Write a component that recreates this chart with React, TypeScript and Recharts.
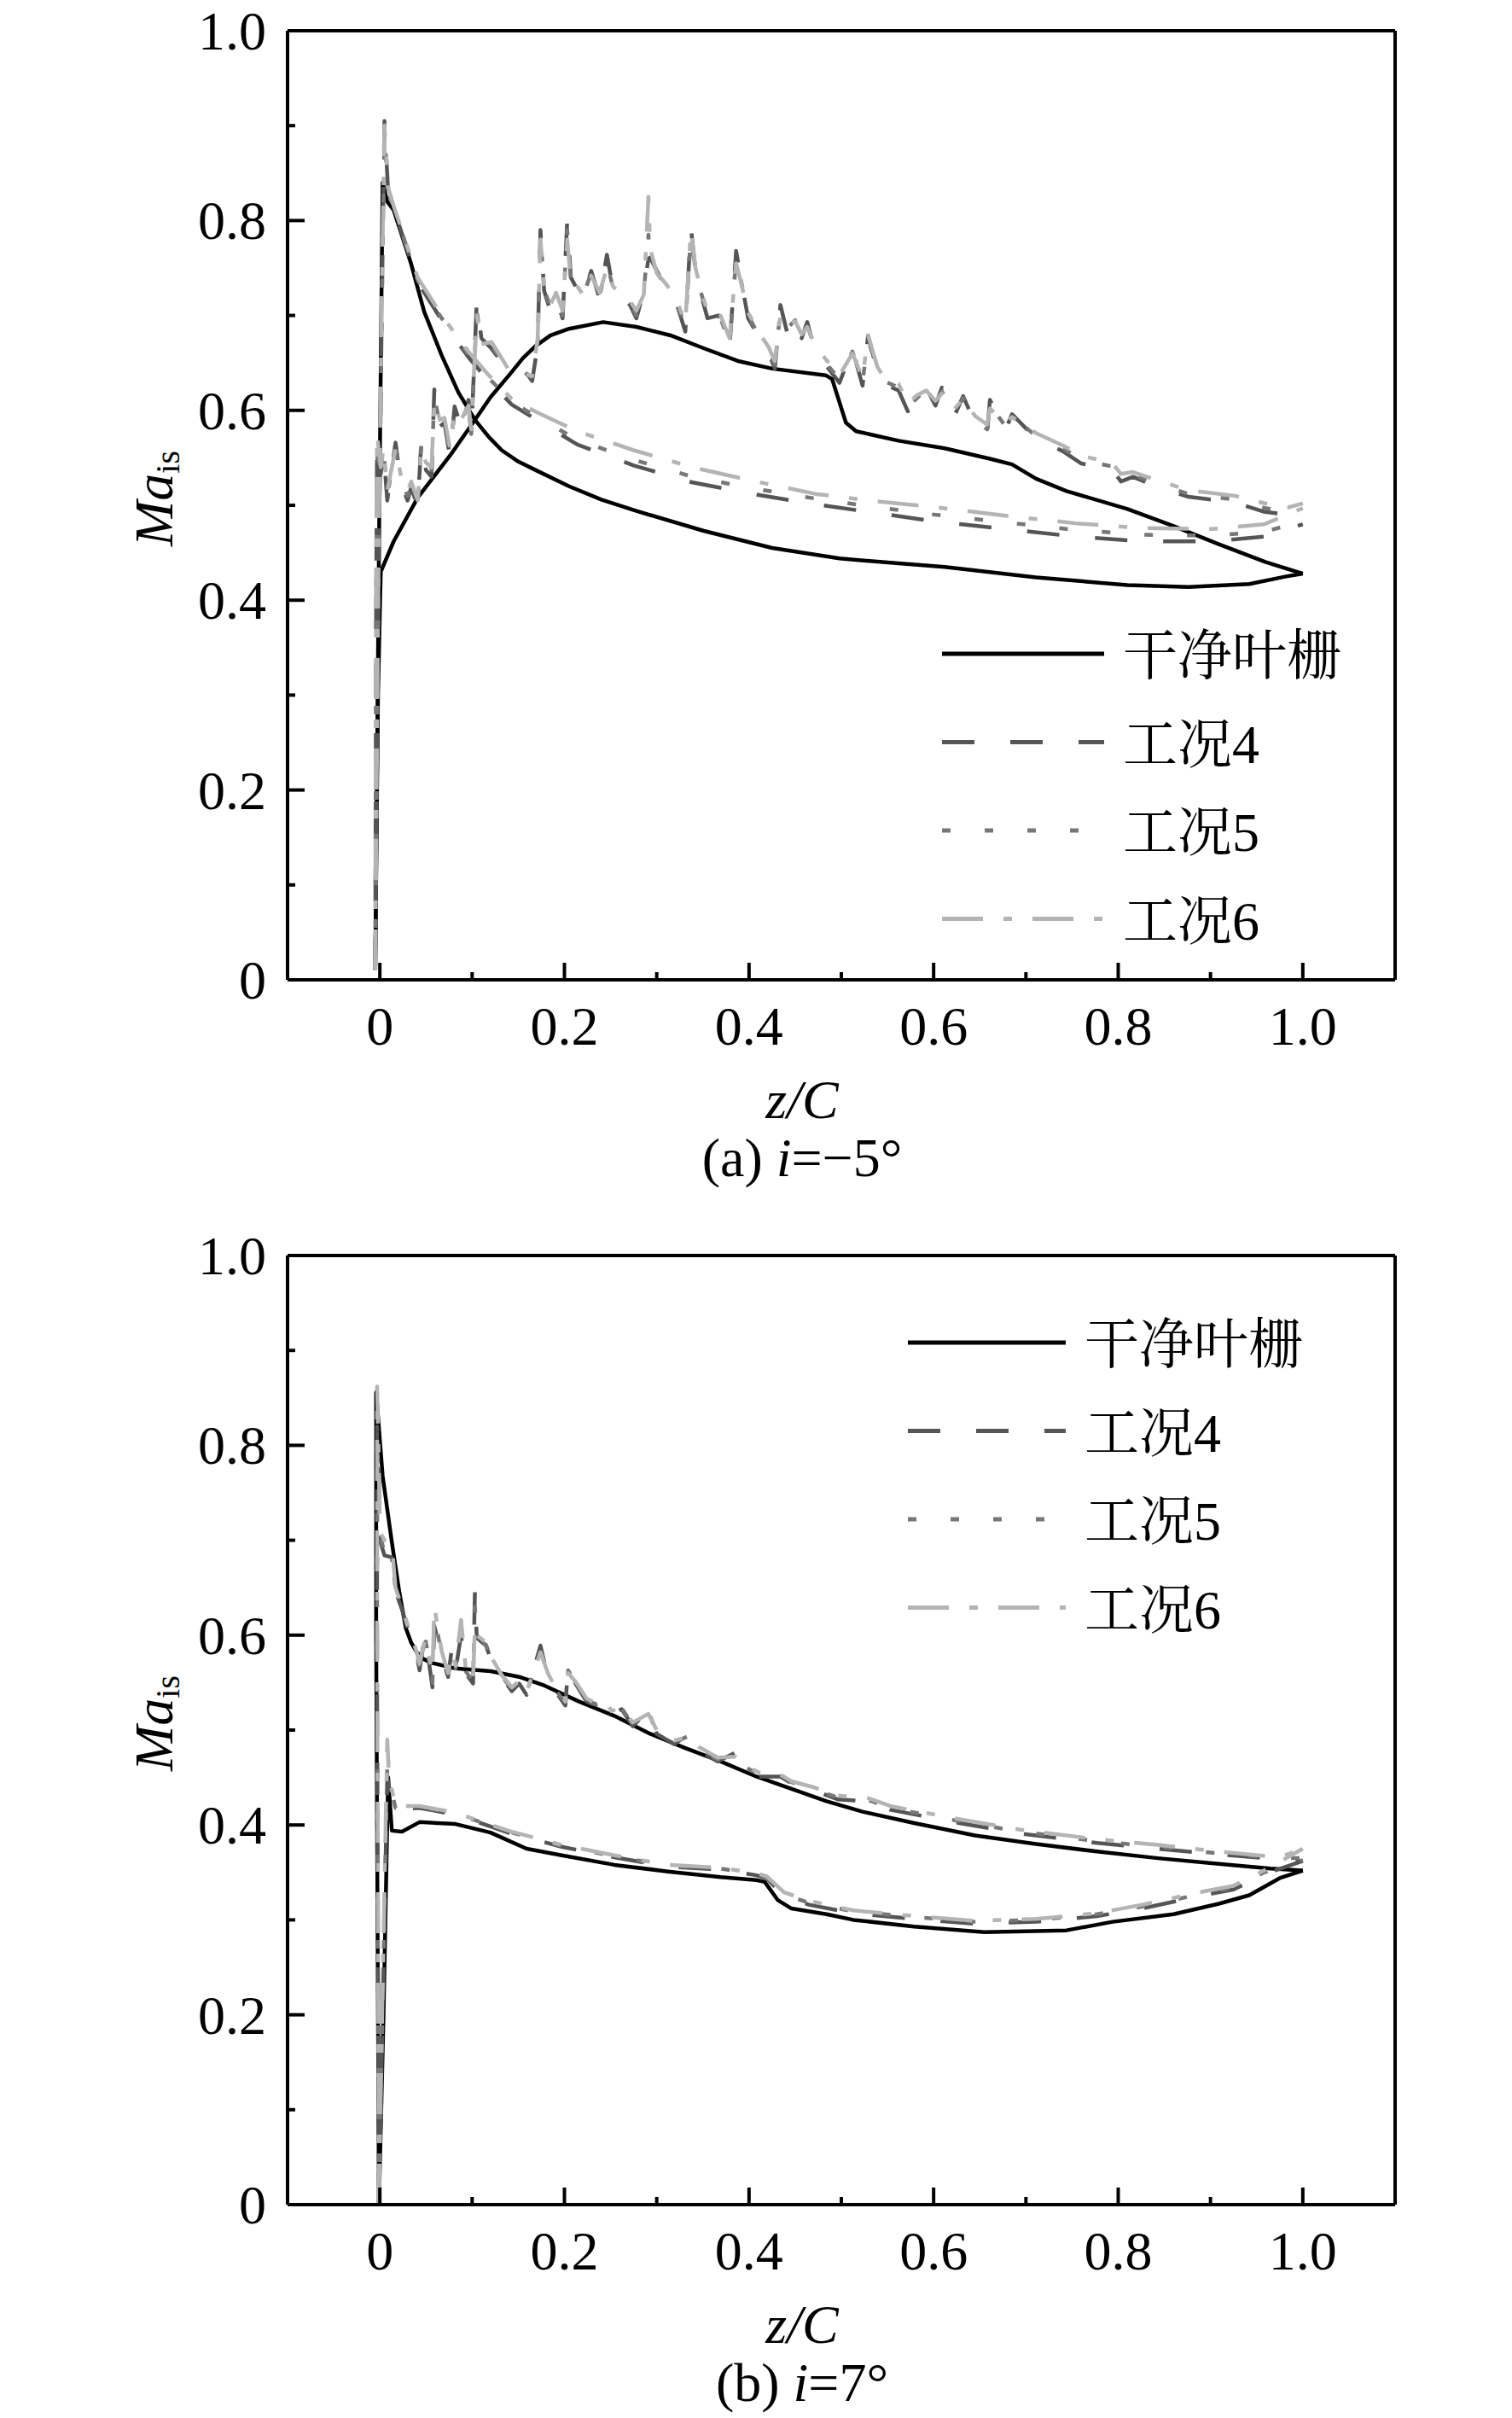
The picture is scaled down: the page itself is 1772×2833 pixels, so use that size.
import { Label, Legend, Line, LineChart, ReferenceLine, XAxis, YAxis } from "recharts"

const SERIF = "'Liberation Serif', 'Times New Roman', serif"
const CJK = "'Liberation Serif', 'Noto Serif CJK SC', 'Noto Sans CJK SC', serif"

const xTicks = [0, 0.1, 0.2, 0.3, 0.4, 0.5, 0.6, 0.7, 0.8, 0.9, 1.0]
const yTicks = [0, 0.1, 0.2, 0.3, 0.4, 0.5, 0.6, 0.7, 0.8, 0.9, 1.0]
const seriesNames = ["干净叶栅", "工况4", "工况5", "工况6"]

// ---------- (a) i = -5° ----------
const aCleanFrontX = [-0.005, -0.001, 0.003, 0.008, 0.015, 0.034, 0.048, 0.067, 0.085, 0.103, 0.118, 0.132, 0.15, 0.169, 0.205, 0.24, 0.278, 0.351, 0.425, 0.498, 0.559, 0.612, 0.711, 0.81, 0.876, 0.942, 0.982, 1.0]
const aCleanFrontY = [0.01, 0.45, 0.84, 0.82, 0.811, 0.754, 0.704, 0.658, 0.619, 0.59, 0.572, 0.558, 0.546, 0.537, 0.52, 0.506, 0.494, 0.473, 0.455, 0.444, 0.439, 0.435, 0.424, 0.416, 0.414, 0.417, 0.425, 0.428]
const aCleanRearX = [-0.005, -0.002, 0.001, 0.015, 0.041, 0.078, 0.103, 0.12, 0.14, 0.155, 0.169, 0.185, 0.205, 0.242, 0.278, 0.315, 0.352, 0.388, 0.425, 0.483, 0.49, 0.505, 0.516, 0.562, 0.612, 0.661, 0.685, 0.711, 0.744, 0.81, 0.86, 0.909, 0.96, 1.0]
const aCleanRearY = [0.01, 0.3, 0.43, 0.462, 0.508, 0.555, 0.59, 0.614, 0.637, 0.655, 0.668, 0.679, 0.686, 0.693, 0.688, 0.679, 0.665, 0.652, 0.644, 0.637, 0.633, 0.587, 0.578, 0.568, 0.56, 0.549, 0.543, 0.528, 0.515, 0.496, 0.478, 0.459, 0.44, 0.428]

const aNoisyX = [
  -0.005, -0.004, -0.003, 0.001, 0.004, 0.008, 0.017, 0.023, 0.03, 0.034,
  0.041, 0.045, 0.05, 0.056, 0.059, 0.065, 0.07, 0.076, 0.081, 0.088,
  0.096, 0.099, 0.105, 0.11, 0.121, 0.132, 0.14, 0.154, 0.165, 0.171,
  0.174, 0.178, 0.185, 0.191, 0.198, 0.203, 0.207, 0.213, 0.22, 0.229,
  0.238, 0.246, 0.253, 0.264, 0.271, 0.278, 0.286, 0.291, 0.293, 0.3,
  0.311, 0.322, 0.331, 0.337, 0.342, 0.348, 0.355, 0.367, 0.379, 0.386,
  0.391, 0.399, 0.41, 0.421, 0.428, 0.434, 0.441, 0.45, 0.457, 0.463,
  0.472, 0.483, 0.498, 0.512, 0.523, 0.529, 0.539, 0.546, 0.562, 0.572,
  0.582, 0.592, 0.602, 0.609, 0.622, 0.632, 0.645, 0.658, 0.661, 0.678,
  0.685, 0.711, 0.74, 0.76, 0.793, 0.803, 0.816, 0.843, 0.876, 0.926,
  0.959, 0.985, 1.0,
]
const aNoisy4 = [
  0.01, 0.4, 0.569, 0.533, 0.558, 0.505, 0.566, 0.523, 0.505, 0.519,
  0.498, 0.569, 0.537, 0.53, 0.622, 0.583, 0.587, 0.551, 0.604, 0.583,
  0.611, 0.572, 0.715, 0.676, 0.665, 0.651, 0.647, 0.646, 0.631, 0.668,
  0.79, 0.726, 0.704, 0.718, 0.697, 0.799, 0.74, 0.729, 0.718, 0.747,
  0.718, 0.764, 0.726, 0.718, 0.711, 0.697, 0.726, 0.76, 0.761, 0.747,
  0.729, 0.711, 0.683, 0.793, 0.747, 0.722, 0.697, 0.7, 0.668, 0.768,
  0.74, 0.697, 0.679, 0.661, 0.644, 0.711, 0.683, 0.697, 0.676, 0.693,
  0.661, 0.648, 0.629, 0.665, 0.626, 0.679, 0.641, 0.628, 0.621, 0.599,
  0.611, 0.624, 0.605, 0.624, 0.593, 0.615, 0.586, 0.576, 0.611, 0.58,
  0.596, 0.57, 0.557, 0.544, 0.538, 0.525, 0.53, 0.519, 0.509, 0.503,
  0.493, 0.49, 0.48,
]
const aNoisy5 = [
  0.01, 0.42, 0.55, 0.54, 0.56, 0.51, 0.56, 0.525, 0.51, 0.52,
  0.5, 0.565, 0.54, 0.535, 0.615, 0.585, 0.59, 0.555, 0.6, 0.585,
  0.608, 0.575, 0.705, 0.672, 0.668, 0.652, 0.645, 0.642, 0.634, 0.672,
  0.785, 0.728, 0.708, 0.72, 0.7, 0.79, 0.738, 0.73, 0.72, 0.745,
  0.72, 0.755, 0.728, 0.72, 0.712, 0.7, 0.724, 0.785, 0.76, 0.745,
  0.73, 0.712, 0.688, 0.785, 0.748, 0.724, 0.7, 0.702, 0.672, 0.76,
  0.738, 0.7, 0.68, 0.663, 0.648, 0.705, 0.686, 0.695, 0.678, 0.69,
  0.664, 0.65, 0.633, 0.662, 0.63, 0.675, 0.643, 0.631, 0.624, 0.603,
  0.613, 0.622, 0.607, 0.62, 0.597, 0.613, 0.59, 0.58, 0.606, 0.583,
  0.594, 0.573, 0.56, 0.548, 0.541, 0.529, 0.532, 0.522, 0.512, 0.506,
  0.497, 0.493, 0.486,
]
const aNoisy6 = [
  0.01, 0.45, 0.575, 0.54, 0.56, 0.515, 0.56, 0.53, 0.515, 0.525,
  0.505, 0.56, 0.545, 0.54, 0.61, 0.59, 0.592, 0.56, 0.598, 0.59,
  0.605, 0.58, 0.7, 0.67, 0.672, 0.655, 0.642, 0.64, 0.636, 0.675,
  0.78, 0.732, 0.712, 0.724, 0.705, 0.78, 0.736, 0.732, 0.722, 0.742,
  0.724, 0.75, 0.73, 0.722, 0.715, 0.705, 0.722, 0.825, 0.77, 0.745,
  0.732, 0.715, 0.692, 0.79, 0.75, 0.726, 0.704, 0.705, 0.676, 0.755,
  0.736, 0.703, 0.683, 0.667, 0.652, 0.7, 0.689, 0.694, 0.68, 0.688,
  0.668, 0.654, 0.637, 0.66, 0.634, 0.679, 0.646, 0.635, 0.628, 0.607,
  0.616, 0.621, 0.61, 0.618, 0.601, 0.612, 0.594, 0.585, 0.602, 0.587,
  0.593, 0.576, 0.563, 0.552, 0.545, 0.533, 0.535, 0.526, 0.516, 0.51,
  0.502, 0.498, 0.502,
]

const aSmoothX = [-0.005, -0.002, 0.002, 0.005, 0.009, 0.015, 0.041, 0.067, 0.096, 0.117, 0.143, 0.17, 0.214, 0.275, 0.339, 0.403, 0.472, 0.53, 0.602, 0.678, 0.754, 0.826, 0.902, 0.958, 1.0]
const aSmooth4 = [0.01, 0.35, 0.7, 0.905, 0.83, 0.813, 0.735, 0.695, 0.656, 0.632, 0.606, 0.59, 0.564, 0.542, 0.524, 0.512, 0.501, 0.493, 0.483, 0.475, 0.467, 0.462, 0.462, 0.467, 0.48]
const aSmooth5 = [0.01, 0.36, 0.7, 0.89, 0.83, 0.814, 0.737, 0.697, 0.659, 0.635, 0.609, 0.593, 0.569, 0.548, 0.53, 0.518, 0.507, 0.499, 0.49, 0.482, 0.474, 0.469, 0.468, 0.472, 0.483]
const aSmooth6 = [0.01, 0.38, 0.72, 0.9, 0.835, 0.815, 0.74, 0.7, 0.662, 0.638, 0.612, 0.598, 0.578, 0.558, 0.54, 0.526, 0.512, 0.505, 0.498, 0.489, 0.481, 0.476, 0.475, 0.48, 0.497]

// ---------- (b) i = 7° ----------
const bCleanUpX = [-0.001, -0.004, -0.004, 0.003, 0.013, 0.021, 0.028, 0.034, 0.04, 0.047, 0.055, 0.082, 0.12, 0.151, 0.178, 0.216, 0.254, 0.293, 0.331, 0.369, 0.408, 0.446, 0.484, 0.523, 0.579, 0.645, 0.711, 0.777, 0.843, 0.909, 0.965, 1.0]
const bCleanUpY = [0.0, 0.6, 0.856, 0.768, 0.698, 0.646, 0.608, 0.592, 0.582, 0.575, 0.571, 0.565, 0.562, 0.556, 0.547, 0.53, 0.515, 0.496, 0.481, 0.467, 0.451, 0.438, 0.425, 0.414, 0.402, 0.389, 0.38, 0.372, 0.365, 0.359, 0.354, 0.352]
const bCleanLowX = [-0.001, 0.004, 0.009, 0.013, 0.024, 0.043, 0.082, 0.12, 0.159, 0.197, 0.254, 0.312, 0.369, 0.408, 0.417, 0.431, 0.446, 0.484, 0.513, 0.579, 0.655, 0.744, 0.794, 0.86, 0.909, 0.942, 0.975, 1.0]
const bCleanLowY = [0.0, 0.2, 0.45, 0.394, 0.393, 0.403, 0.401, 0.392, 0.375, 0.368, 0.358, 0.351, 0.345, 0.342, 0.34, 0.321, 0.312, 0.306, 0.3, 0.293, 0.287, 0.289, 0.298, 0.306, 0.317, 0.326, 0.344, 0.352]

const bNoisyX = [
  -0.001, -0.003, -0.003, -0.001, 0.0, 0.005, 0.013, 0.017, 0.024, 0.032,
  0.04, 0.043, 0.049, 0.057, 0.059, 0.067, 0.074, 0.078, 0.082, 0.088,
  0.093, 0.101, 0.103, 0.105, 0.115, 0.12, 0.132, 0.143, 0.151, 0.159,
  0.174, 0.182, 0.19, 0.201, 0.204, 0.212, 0.224, 0.235, 0.245, 0.251,
  0.262, 0.274, 0.291, 0.3, 0.319, 0.335, 0.346, 0.366, 0.385, 0.396,
  0.411, 0.434, 0.446, 0.469, 0.496, 0.53, 0.553, 0.628, 0.694, 0.777,
  0.843, 0.909, 0.975, 1.0,
]
const bNoisy4 = [
  0.0, 0.55, 0.82, 0.776, 0.7, 0.684, 0.682, 0.646, 0.627, 0.601,
  0.578, 0.563, 0.601, 0.545, 0.61, 0.578, 0.556, 0.586, 0.563, 0.6,
  0.56, 0.549, 0.646, 0.597, 0.589, 0.575, 0.556, 0.541, 0.549, 0.537,
  0.589, 0.556, 0.541, 0.526, 0.567, 0.549, 0.53, 0.526, 0.532, 0.517,
  0.522, 0.504, 0.521, 0.496, 0.485, 0.496, 0.478, 0.467, 0.476, 0.459,
  0.451, 0.451, 0.444, 0.437, 0.427, 0.425, 0.416, 0.402, 0.391, 0.381,
  0.375, 0.369, 0.364, 0.362,
]
const bNoisy5 = [
  0.0, 0.56, 0.8, 0.77, 0.705, 0.688, 0.684, 0.648, 0.628, 0.603,
  0.58, 0.566, 0.598, 0.55, 0.62, 0.58, 0.558, 0.584, 0.565, 0.608,
  0.562, 0.551, 0.63, 0.595, 0.59, 0.577, 0.557, 0.543, 0.55, 0.539,
  0.585, 0.557, 0.543, 0.528, 0.563, 0.55, 0.531, 0.527, 0.531, 0.519,
  0.523, 0.506, 0.519, 0.498, 0.487, 0.494, 0.48, 0.469, 0.474, 0.461,
  0.453, 0.452, 0.445, 0.438, 0.429, 0.426, 0.418, 0.404, 0.393, 0.383,
  0.377, 0.37, 0.365, 0.365,
]
const bNoisy6 = [
  0.0, 0.6, 0.862, 0.78, 0.709, 0.7, 0.695, 0.65, 0.63, 0.605,
  0.582, 0.57, 0.596, 0.56, 0.63, 0.583, 0.56, 0.582, 0.568, 0.616,
  0.565, 0.552, 0.61, 0.6, 0.592, 0.578, 0.558, 0.545, 0.552, 0.54,
  0.582, 0.56, 0.545, 0.53, 0.56, 0.551, 0.533, 0.528, 0.53, 0.52,
  0.524, 0.508, 0.517, 0.5, 0.489, 0.493, 0.482, 0.471, 0.472, 0.463,
  0.455, 0.453, 0.446, 0.44, 0.431, 0.428, 0.42, 0.406, 0.395, 0.385,
  0.379, 0.372, 0.366, 0.375,
]

const bSmoothX = [-0.001, 0.004, 0.008, 0.01, 0.017, 0.043, 0.082, 0.139, 0.197, 0.254, 0.312, 0.369, 0.408, 0.419, 0.438, 0.465, 0.513, 0.579, 0.645, 0.711, 0.777, 0.826, 0.893, 0.925, 0.958, 1.0]
const bSmooth4 = [0.0, 0.25, 0.45, 0.44, 0.416, 0.418, 0.411, 0.392, 0.377, 0.366, 0.356, 0.353, 0.347, 0.344, 0.325, 0.316, 0.307, 0.301, 0.296, 0.298, 0.304, 0.312, 0.326, 0.332, 0.348, 0.362]
const bSmooth5 = [0.0, 0.26, 0.46, 0.445, 0.418, 0.419, 0.412, 0.393, 0.378, 0.367, 0.357, 0.354, 0.348, 0.345, 0.327, 0.318, 0.309, 0.303, 0.298, 0.3, 0.306, 0.314, 0.328, 0.334, 0.35, 0.363]
const bSmooth6 = [0.0, 0.28, 0.49, 0.45, 0.42, 0.42, 0.413, 0.394, 0.379, 0.368, 0.358, 0.355, 0.349, 0.346, 0.329, 0.32, 0.31, 0.304, 0.299, 0.301, 0.307, 0.316, 0.33, 0.336, 0.352, 0.375]

type Pt = { x: number; y: number }
const pts = (xs: number[], ys: number[]): Pt[] => xs.map((x, i) => ({ x, y: ys[i] }))

const STYLES = [
  { stroke: "#000000", dash: undefined as string | undefined },
  { stroke: "#555555", dash: "38 42" },
  { stroke: "#777777", dash: "10 40" },
  { stroke: "#b4b4b4", dash: "48 24 10 24" },
]

const fmt = (v: number) => (v === 0 ? "0" : v.toFixed(1))
const isMajor = (v: number) => Math.round(v * 10) % 2 === 0

function XTick(props: any) {
  const { x, y, payload } = props
  const v = payload.value as number
  const major = isMajor(v)
  return (
    <g>
      <line x1={x} x2={x} y1={y} y2={y - (major ? 20 : 9)} stroke="#000" strokeWidth={4} />
      {major && (
        <text x={x} y={y + 76} textAnchor="middle" fontFamily={SERIF} fontSize={64} fill="#000">
          {fmt(v)}
        </text>
      )}
    </g>
  )
}

function YTick(props: any) {
  const { x, y, payload } = props
  const v = payload.value as number
  const major = isMajor(v)
  return (
    <g>
      <line x1={x} x2={x + (major ? 20 : 9)} y1={y} y2={y} stroke="#000" strokeWidth={4} />
      {major && (
        <text x={x - 25} y={y + 22} textAnchor="end" fontFamily={SERIF} fontSize={64} fill="#000">
          {fmt(v)}
        </text>
      )}
    </g>
  )
}

function YTitle(props: any) {
  const vb = props.viewBox
  const cx = vb.x + vb.width - 135
  const cy = vb.y + vb.height / 2 - 8
  return (
    <text
      x={cx}
      y={cy}
      transform={`rotate(-90 ${cx} ${cy})`}
      textAnchor="middle"
      fontFamily={SERIF}
      fontSize={64}
      fill="#000"
    >
      <tspan fontStyle="italic">Ma</tspan>
      <tspan fontSize={40} dy={8}>is</tspan>
    </text>
  )
}

function makeXTitle(tag: string, angle: string) {
  return function XTitle(props: any) {
    const vb = props.viewBox
    const cx = vb.x + 603
    return (
      <g fontFamily={SERIF} fontSize={64} fill="#000">
        <text x={cx} y={vb.y + 162} textAnchor="middle" fontStyle="italic">
          z/C
        </text>
        <text x={cx} y={vb.y + 230} textAnchor="middle">
          {tag} <tspan fontStyle="italic">i</tspan>={angle}°
        </text>
      </g>
    )
  }
}

function makeLegend(lineLen: number) {
  return function LegendBox() {
    return (
      <svg width={620} height={440}>
        {seriesNames.map((name, i) => {
          const y = 60 + i * 103.5
          return (
            <g key={name}>
              <line
                x1={14}
                x2={14 + lineLen}
                y1={y}
                y2={y}
                stroke={STYLES[i].stroke}
                strokeWidth={5}
                strokeDasharray={STYLES[i].dash}
              />
              <text x={36 + lineLen} y={y + 24} fontFamily={CJK} fontSize={64} fill="#000">
                {name}
              </text>
            </g>
          )
        })}
      </svg>
    )
  }
}

type SeriesSet = { key: string; data: Pt[]; style: number }[]

const panelA: SeriesSet = [
  { key: "a-clean-front", data: pts(aCleanFrontX, aCleanFrontY), style: 0 },
  { key: "a-clean-rear", data: pts(aCleanRearX, aCleanRearY), style: 0 },
  { key: "a-s4", data: pts(aSmoothX, aSmooth4), style: 1 },
  { key: "a-n4", data: pts(aNoisyX, aNoisy4), style: 1 },
  { key: "a-s5", data: pts(aSmoothX, aSmooth5), style: 2 },
  { key: "a-n5", data: pts(aNoisyX, aNoisy5), style: 2 },
  { key: "a-s6", data: pts(aSmoothX, aSmooth6), style: 3 },
  { key: "a-n6", data: pts(aNoisyX, aNoisy6), style: 3 },
]

const panelB: SeriesSet = [
  { key: "b-clean-up", data: pts(bCleanUpX, bCleanUpY), style: 0 },
  { key: "b-clean-low", data: pts(bCleanLowX, bCleanLowY), style: 0 },
  { key: "b-s4", data: pts(bSmoothX, bSmooth4), style: 1 },
  { key: "b-n4", data: pts(bNoisyX, bNoisy4), style: 1 },
  { key: "b-s5", data: pts(bSmoothX, bSmooth5), style: 2 },
  { key: "b-n5", data: pts(bNoisyX, bNoisy5), style: 2 },
  { key: "b-s6", data: pts(bSmoothX, bSmooth6), style: 3 },
  { key: "b-n6", data: pts(bNoisyX, bNoisy6), style: 3 },
]

function Panel({
  height,
  top,
  series,
  tag,
  angle,
  legendLeft,
  legendTop,
  legendLen,
}: {
  height: number
  top: number
  series: SeriesSet
  tag: string
  angle: string
  legendLeft: number
  legendTop: number
  legendLen: number
}) {
  // plot area: x 337..1635, height 1112 (axes take 1px each)
  return (
    <LineChart
      width={1772}
      height={height}
      margin={{ top, right: 137, bottom: height - top - 1112 - 1, left: 336 }}
    >
      <XAxis
        type="number"
        dataKey="x"
        domain={[-0.1, 1.1]}
        allowDataOverflow
        ticks={xTicks}
        interval={0}
        height={1}
        tickSize={0}
        tickMargin={0}
        tick={<XTick />}
        tickLine={false}
        axisLine={{ stroke: "#000", strokeWidth: 4 }}
      >
        <Label content={makeXTitle(tag, angle)} />
      </XAxis>
      <YAxis
        type="number"
        domain={[0, 1]}
        allowDataOverflow
        ticks={yTicks}
        interval={0}
        width={1}
        tickSize={0}
        tickMargin={0}
        tick={<YTick />}
        tickLine={false}
        axisLine={{ stroke: "#000", strokeWidth: 4 }}
      >
        <Label content={YTitle} />
      </YAxis>
      <ReferenceLine y={1} stroke="#000" strokeWidth={4} />
      <ReferenceLine x={1.1} stroke="#000" strokeWidth={4} />
      {series.map((s) => (
        <Line
          key={s.key}
          data={s.data}
          dataKey="y"
          type="linear"
          stroke={STYLES[s.style].stroke}
          strokeWidth={4.5}
          strokeDasharray={STYLES[s.style].dash}
          strokeLinejoin="round"
          dot={false}
          activeDot={false}
          isAnimationActive={false}
        />
      ))}
      <Legend
        layout="vertical"
        align="center"
        verticalAlign="middle"
        content={makeLegend(legendLen)}
        wrapperStyle={{ left: legendLeft, top: legendTop, width: 620, height: 440 }}
      />
    </LineChart>
  )
}

export default function App() {
  return (
    <div style={{ position: "absolute", left: 0, top: 0, width: 1772, height: 2833, background: "#fff" }}>
      <Panel
        height={1416}
        top={36}
        series={panelA}
        tag="(a)"
        angle={"\u22125"}
        legendLeft={1090}
        legendTop={706}
        legendLen={190}
      />
      <Panel
        height={1417}
        top={55}
        series={panelB}
        tag="(b)"
        angle="7"
        legendLeft={1050}
        legendTop={97}
        legendLen={185}
      />
    </div>
  )
}
